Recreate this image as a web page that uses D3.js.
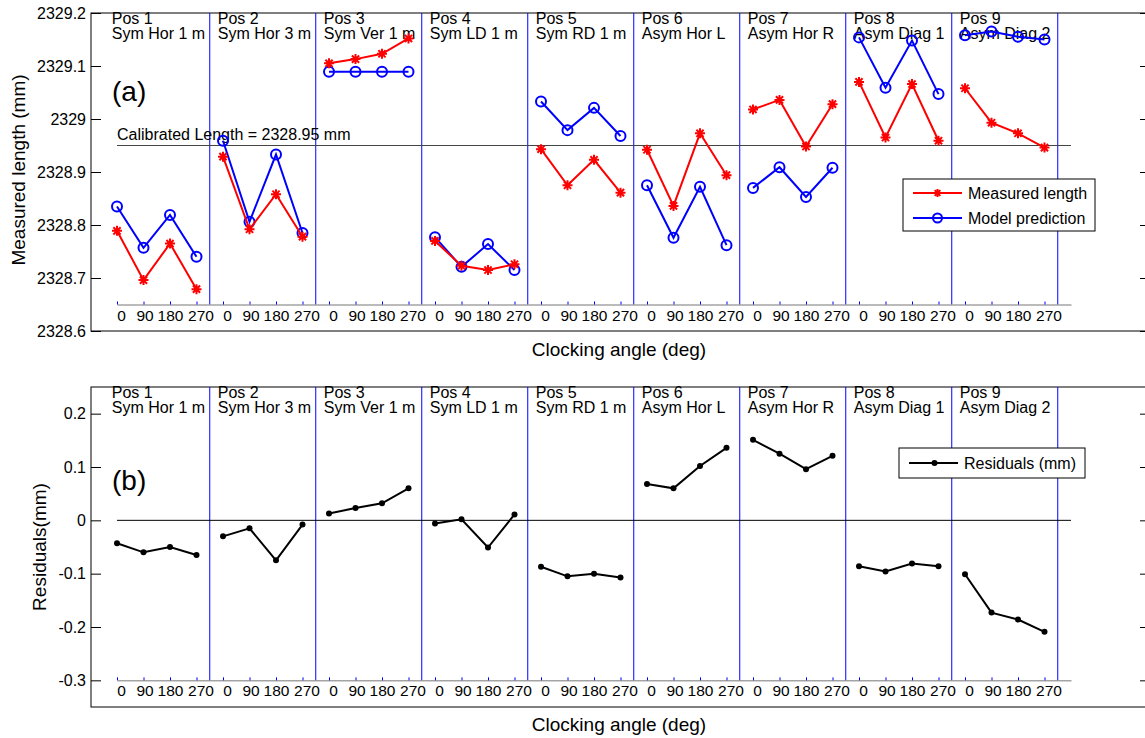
<!DOCTYPE html>
<html>
<head>
<meta charset="utf-8">
<script src="https://cdn.jsdelivr.net/npm/d3@7"></script>
<style>
body { margin: 0; background: #fff; }
svg { display: block; font-family: "Liberation Sans", Arial, sans-serif; }
</style>
</head>
<body>
<svg id="chart" width="1145" height="738"></svg>
<script>
// data, 9 positions x 4 clocking angles
var positions = ["Pos 1", "Pos 2", "Pos 3", "Pos 4", "Pos 5", "Pos 6", "Pos 7", "Pos 8", "Pos 9"];
var setups = ["Sym Hor 1 m", "Sym Hor 3 m", "Sym Ver 1 m", "Sym LD 1 m", "Sym RD 1 m",
              "Asym Hor L", "Asym Hor R", "Asym Diag 1", "Asym Diag 2"];
var angles = ["0", "90", "180", "270"];

var measured = [
    2328.789, 2328.696, 2328.765, 2328.679,
    2328.929, 2328.792, 2328.858, 2328.778,
    2329.105, 2329.113, 2329.123, 2329.152,
    2328.770, 2328.723, 2328.715, 2328.726,
    2328.943, 2328.875, 2328.923, 2328.861,
    2328.942, 2328.836, 2328.973, 2328.894,
    2329.018, 2329.036, 2328.948, 2329.028,
    2329.070, 2328.965, 2329.066, 2328.959,
    2329.058, 2328.993, 2328.973, 2328.946
];
var model = [
    2328.835, 2328.757, 2328.819, 2328.740,
    2328.959, 2328.806, 2328.933, 2328.785,
    2329.089, 2329.089, 2329.089, 2329.089,
    2328.777, 2328.721, 2328.764, 2328.715,
    2329.033, 2328.979, 2329.021, 2328.968,
    2328.875, 2328.776, 2328.872, 2328.762,
    2328.870, 2328.909, 2328.853, 2328.908,
    2329.154, 2329.059, 2329.148, 2329.047,
    2329.158, 2329.165, 2329.155, 2329.150
];
var residuals = [
    -0.043, -0.060, -0.050, -0.065,
    -0.030, -0.015, -0.075, -0.008,
     0.013,  0.023,  0.032,  0.060,
    -0.006,  0.002, -0.051,  0.011,
    -0.087, -0.105, -0.100, -0.107,
     0.068,  0.060,  0.102,  0.136,
     0.151,  0.125,  0.096,  0.121,
    -0.086, -0.096, -0.081, -0.086,
    -0.101, -0.173, -0.186, -0.209
];
var calibratedLength = 2328.95;
var lengthTicks = [2328.6, 2328.7, 2328.8, 2328.9, 2329, 2329.1, 2329.2];
var residualTicks = [-0.3, -0.2, -0.1, 0, 0.1, 0.2];

var svg = d3.select("#chart");
var boxLeft = 91, boxRight = 1150;
var x = d3.scaleLinear().domain([0, 36]).range([117, 1071]);
// the angle labels sit a little off their ticks, as in the original
var labelShift = [4, 1, 0, 4];

function groupOf(values) {
    // split the flat list into one 4-point segment per position
    return positions.map(function (p, i) {
        return values.slice(4 * i, 4 * i + 4).map(function (v, j) {
            return { k: 4 * i + j, v: v };
        });
    });
}

function drawFrame(y, top, bottom, ticks, baseValue, tag, tagY) {
    var g = svg.append("g");
    var base = y(baseValue);

    // box + outer ticks
    g.append("rect")
        .attr("x", boxLeft).attr("y", top)
        .attr("width", boxRight - boxLeft).attr("height", bottom - top)
        .attr("fill", "none").attr("stroke", "#000").attr("stroke-width", 1);

    var left = g.append("g").attr("transform", "translate(" + boxLeft + ",0)")
        .call(d3.axisLeft(y).tickValues(ticks).tickSizeInner(-10).tickSizeOuter(0)
            .tickPadding(5).tickFormat(function (d) { return String(d); }));
    left.select(".domain").remove();
    left.selectAll("text").attr("font-size", 16).attr("fill", "#000")
        .style("font-family", "'Liberation Sans', Arial, sans-serif");

    var right = g.append("g").attr("transform", "translate(" + boxRight + ",0)")
        .call(d3.axisRight(y).tickValues(ticks).tickSizeInner(-10).tickSizeOuter(0).tickFormat(""));
    right.select(".domain").remove();

    // position labels
    positions.forEach(function (p, i) {
        var t = g.append("text")
            .attr("x", x(4 * i - 0.5) + 8)
            .attr("font-size", 16).attr("fill", "#000");
        t.append("tspan").attr("x", x(4 * i - 0.5) + 8).attr("y", top + 11).text(p);
        t.append("tspan").attr("x", x(4 * i - 0.5) + 8).attr("y", top + 25.5).text(setups[i]);
    });

    g.append("text")
        .attr("x", 112).attr("y", tagY)
        .attr("font-size", 28).attr("fill", "#000")
        .text(tag);

    // separators between positions
    g.selectAll(".sep")
        .data(d3.range(positions.length))
        .join("line")
        .attr("class", "sep")
        .attr("x1", function (i) { return x(4 * i + 3.5); })
        .attr("x2", function (i) { return x(4 * i + 3.5); })
        .attr("y1", top).attr("y2", base)
        .attr("stroke", "#0000ff").attr("stroke-width", 1);

    // grouped clocking-angle axis
    var inner = g.append("g").attr("transform", "translate(0," + base + ")")
        .call(d3.axisBottom(x).tickValues(d3.range(36)).tickSizeInner(-3).tickSizeOuter(0)
            .tickPadding(5).tickFormat(function (k) { return angles[k % 4]; }));
    inner.select(".domain").attr("stroke", "#777");
    inner.selectAll(".tick line").attr("stroke", "#0000ff");
    inner.selectAll("text").attr("font-size", 15.5).attr("fill", "#000")
        .attr("dx", function (k) { return labelShift[k % 4]; })
        .style("font-family", "'Liberation Sans', Arial, sans-serif");

    return g;
}

function star(sel, s, color) {
    var a = s * 0.72;
    sel.append("path")
        .attr("d", "M" + (-s) + ",0H" + s + "M0," + (-s) + "V" + s +
            "M" + (-a) + "," + (-a) + "L" + a + "," + a +
            "M" + (-a) + "," + a + "L" + a + "," + (-a))
        .attr("stroke", color).attr("stroke-width", 2).attr("fill", "none");
}

function xLabel(yPos) {
    svg.append("text")
        .attr("x", 619).attr("y", yPos)
        .attr("text-anchor", "middle").attr("font-size", 19)
        .text("Clocking angle (deg)");
}

function yLabel(xPos, yPos, label) {
    svg.append("text")
        .attr("transform", "translate(" + xPos + "," + yPos + ") rotate(-90)")
        .attr("text-anchor", "middle").attr("font-size", 19)
        .text(label);
}

// ---------- panel (a) ----------
var yA = d3.scaleLinear().domain([2328.6, 2329.2]).range([331, 13]);
drawFrame(yA, 13, 331, lengthTicks, 2328.65, "(a)", 101);

svg.append("line")
    .attr("x1", x(0)).attr("x2", x(36))
    .attr("y1", yA(calibratedLength)).attr("y2", yA(calibratedLength))
    .attr("stroke", "#444").attr("stroke-width", 1);
svg.append("text")
    .attr("x", 117).attr("y", yA(calibratedLength) - 6)
    .attr("font-size", 16)
    .text("Calibrated Length = " + calibratedLength + " mm");

var lineA = d3.line().x(function (d) { return x(d.k); }).y(function (d) { return yA(d.v); });

svg.append("g").selectAll("path")
    .data(groupOf(model)).join("path")
    .attr("d", lineA).attr("fill", "none").attr("stroke", "#0000ff").attr("stroke-width", 2);
svg.append("g").selectAll("circle")
    .data(groupOf(model).flat()).join("circle")
    .attr("cx", function (d) { return x(d.k); })
    .attr("cy", function (d) { return yA(d.v); })
    .attr("r", 5).attr("fill", "none").attr("stroke", "#0000ff").attr("stroke-width", 2);

svg.append("g").selectAll("path")
    .data(groupOf(measured)).join("path")
    .attr("d", lineA).attr("fill", "none").attr("stroke", "#ff0000").attr("stroke-width", 2);
svg.append("g").selectAll("g")
    .data(groupOf(measured).flat()).join("g")
    .attr("transform", function (d) { return "translate(" + x(d.k) + "," + yA(d.v) + ")"; })
    .each(function () { star(d3.select(this), 5, "#ff0000"); });

xLabel(356);
yLabel(25, 170, "Measured length (mm)");

// legend (a)
var legA = svg.append("g");
legA.append("rect").attr("x", 903).attr("y", 179).attr("width", 192).attr("height", 52)
    .attr("fill", "#fff").attr("stroke", "#000").attr("stroke-width", 1);
legA.append("line").attr("x1", 913).attr("x2", 962).attr("y1", 193).attr("y2", 193)
    .attr("stroke", "#ff0000").attr("stroke-width", 2);
star(legA.append("g").attr("transform", "translate(937.5,193)"), 4, "#ff0000");
legA.append("text").attr("x", 968).attr("y", 193).attr("dy", "0.35em").attr("font-size", 16)
    .text("Measured length");
legA.append("line").attr("x1", 913).attr("x2", 962).attr("y1", 218).attr("y2", 218)
    .attr("stroke", "#0000ff").attr("stroke-width", 2);
legA.append("circle").attr("cx", 937.5).attr("cy", 218).attr("r", 4.5)
    .attr("fill", "none").attr("stroke", "#0000ff").attr("stroke-width", 2);
legA.append("text").attr("x", 968).attr("y", 218).attr("dy", "0.35em").attr("font-size", 16)
    .text("Model prediction");

// ---------- panel (b) ----------
var yB = d3.scaleLinear().domain([-0.35, 0.25]).range([707, 387]);
drawFrame(yB, 387, 707, residualTicks, -0.3, "(b)", 490);

svg.append("line")
    .attr("x1", x(0)).attr("x2", x(36))
    .attr("y1", yB(0)).attr("y2", yB(0))
    .attr("stroke", "#000").attr("stroke-width", 1);

var lineB = d3.line().x(function (d) { return x(d.k); }).y(function (d) { return yB(d.v); });
svg.append("g").selectAll("path")
    .data(groupOf(residuals)).join("path")
    .attr("d", lineB).attr("fill", "none").attr("stroke", "#000").attr("stroke-width", 2);
svg.append("g").selectAll("circle")
    .data(groupOf(residuals).flat()).join("circle")
    .attr("cx", function (d) { return x(d.k); })
    .attr("cy", function (d) { return yB(d.v); })
    .attr("r", 3).attr("fill", "#000");

xLabel(731);
yLabel(46, 547, "Residuals(mm)");

// legend (b)
var legB = svg.append("g");
legB.append("rect").attr("x", 899).attr("y", 448).attr("width", 186).attr("height", 30)
    .attr("fill", "#fff").attr("stroke", "#000").attr("stroke-width", 1);
legB.append("line").attr("x1", 909).attr("x2", 958).attr("y1", 463).attr("y2", 463)
    .attr("stroke", "#000").attr("stroke-width", 2);
legB.append("circle").attr("cx", 934.5).attr("cy", 463).attr("r", 3).attr("fill", "#000");
legB.append("text").attr("x", 964).attr("y", 463).attr("dy", "0.35em").attr("font-size", 16)
    .text("Residuals (mm)");
</script>
</body>
</html>
